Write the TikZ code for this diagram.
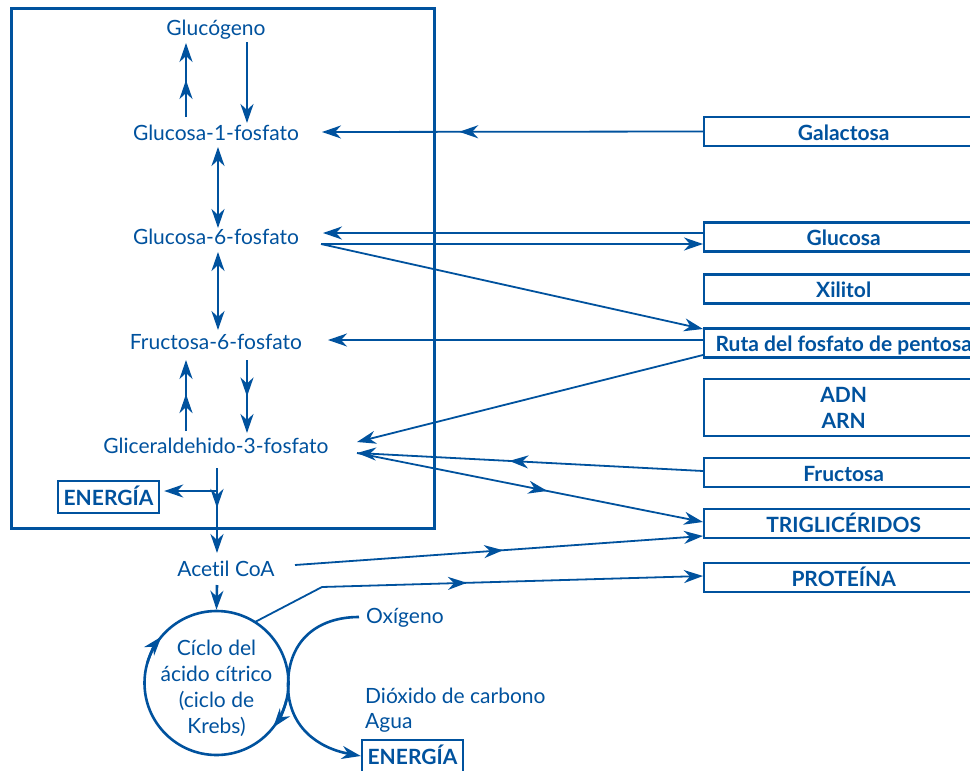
\documentclass[tikz,border=0pt]{standalone}
\usepackage{fontspec}
\setmainfont{Lato}[Ligatures=NoCommon]
\usetikzlibrary{arrows.meta,decorations.markings,calc}
\definecolor{dblue}{RGB}{0,82,158}
\tikzset{
  myhead/.tip={Stealth[length=19pt,width=13pt,inset=6pt]},
  lbl/.style={text=dblue, font=\fontsize{21}{26}\selectfont, inner sep=0pt},
  rbox/.style={draw=dblue, line width=2.4pt, text=dblue, font=\bfseries\fontsize{21}{26}\selectfont,
     minimum width=279pt, minimum height=29pt, text height=17.5pt, text depth=0pt, inner sep=0pt, anchor=west},
  ebox/.style={draw=dblue, line width=2.4pt, text=dblue, font=\bfseries\fontsize{21}{26}\selectfont,
     minimum width=101pt, minimum height=32pt, text height=17.5pt, text depth=0pt, inner sep=0pt},
  thickarr/.style={draw=dblue, line width=2.6pt},
  thinarr/.style={draw=dblue, line width=1.8pt},
  midhead/.style={postaction={decorate},
     decoration={markings, mark=at position #1 with {\arrow{Stealth[length=19pt,width=13pt,inset=6pt]}}}},
}
\begin{document}
\begin{tikzpicture}[x=1pt,y=-1pt]
\useasboundingbox (0,0) rectangle (970,771);
\clip (0,0) rectangle (970,771);
\fill[white] (0,0) rectangle (970,771);

% main frame
\node[draw=dblue, line width=2.7pt, minimum width=423pt, minimum height=520pt, inner sep=0pt, anchor=north west] (frame) at (10,7) {};

% left column labels
\node[lbl, anchor=base] (glg) at (216,35) {Glucógeno};
\node[lbl, anchor=base] (g1p) at (216,140) {Glucosa-1-fosfato};
\node[lbl, anchor=base] (g6p) at (216,244) {Glucosa-6-fosfato};
\node[lbl, anchor=base] (f6p) at (216,349) {Fructosa-6-fosfato};
\node[lbl, anchor=base] (g3p) at (216,453) {Gliceraldehido-3-fosfato};
\node[lbl, anchor=base] (acoa) at (226,576) {Acetil CoA};
\node[lbl, anchor=base west] (oxi) at (366,623) {Oxígeno};
\node[lbl, anchor=base west] (dco) at (365,703) {Dióxido de carbono};
\node[lbl, anchor=base west] (agua) at (365,728) {Agua};

\node[ebox] (en1) at (108.5,497) {ENERGÍA};
\node[ebox] (en2) at (412.5,756) {ENERGÍA};

% Krebs cycle
\node[draw=dblue, circle, line width=2.6pt, minimum size=144pt, inner sep=0pt] (krebs) at (216.5,683) {};
\node[lbl, align=center] (krebstxt) at (216.5,688) {Cíclo del\\ácido cítrico\\(ciclo de\\Krebs)};

% right boxes
\node[rbox] (gal) at (703,131.5) {Galactosa};
\node[rbox] (glc) at (703,237) {Glucosa};
\node[rbox] (xil) at (703,289) {Xilitol};
\node[rbox] (ruta) at (703,343) {Ruta del fosfato de pentosa};
\node[rbox, minimum height=57pt, align=center, text height=, text depth=] (adn) at (703,407.5) {ADN\\ARN};
\node[rbox] (fru) at (703,472.5) {Fructosa};
\node[rbox] (tri) at (703,523.5) {TRIGLICÉRIDOS};
\node[rbox] (prot) at (703,577.5) {PROTEÍNA};

% connector end points
\coordinate (glgL) at (186,43);
\coordinate (g1pUL) at (186,117);
\coordinate (glgR) at (247,42);
\coordinate (g1pUR) at (247,123);
\coordinate (g1pB) at (218,147);
\coordinate (g6pT) at (218,228);
\coordinate (g6pB) at (218,252);
\coordinate (f6pT) at (218,330);
\coordinate (f6pBL) at (186,360);
\coordinate (g3pTL) at (186,431);
\coordinate (f6pBR) at (247,360);
\coordinate (g3pTR) at (247,433);
\coordinate (g3pB) at (217,468);
\coordinate (acoaT) at (217,553);
\coordinate (branch) at (217,491);
\coordinate (acoaB) at (217,585);
\coordinate (g1pR) at (322,132);
\coordinate (g6pRin) at (323,233);
\coordinate (g6pRout) at (321,244);
\coordinate (f6pR) at (328,340);
\coordinate (g3pR1) at (357,442);
\coordinate (g3pR2) at (357,453);
\coordinate (acoaR) at (295,565);
\coordinate (krebsR) at (255,622);
\coordinate (bend) at (322,587);
\coordinate (oxs) at (359,617);

% vertical pathway
\draw[thickarr, -{myhead}, midhead=0.5] (g1pUL) -- (glgL);
\draw[thickarr, -{myhead}] (glgR) -- (g1pUR);
\draw[thickarr, {myhead}-{myhead}] (g1pB) -- (g6pT);
\draw[thickarr, {myhead}-{myhead}] (g6pB) -- (f6pT);
\draw[thickarr, -{myhead}, midhead=0.52] (g3pTL) -- (f6pBL);
\draw[thickarr, -{myhead}, midhead=0.5] (f6pBR) -- (g3pTR);
\draw[thickarr, -{myhead}, midhead=0.47] (g3pB) -- (acoaT);
\draw[thickarr, -{myhead}] (branch) -- ([xshift=4pt]en1.east |- branch);
\draw[thickarr, -{myhead}] (acoaB) -- (krebs.north);

% right side connectors (yshift is in page units: positive = up)
\draw[thinarr, -{myhead}, midhead=0.64] (gal.west) -- (g1pR);
\draw[thinarr, -{myhead}] (glc.west |- g6pRin) -- (g6pRin);
\draw[thinarr, -{myhead}] (g6pRout) -- (glc.west |- g6pRout);
\draw[thinarr, -{myhead}] (g6pRout) -- ([yshift=14pt]ruta.west);
\draw[thinarr, -{myhead}] (ruta.west |- f6pR) -- (f6pR);
\draw[thinarr, -{myhead}] ([yshift=-12pt]ruta.west) -- (g3pR1);
\draw[thinarr, -{myhead}, midhead=0.56] ([yshift=1.5pt]fru.west) -- (g3pR2);
\draw[thinarr, -{myhead}, midhead=0.55] (g3pR2) -- ([yshift=1.5pt]tri.west);
\draw[thinarr, -{myhead}, midhead=0.51] (acoaR) -- ([yshift=-12.5pt]tri.west);
\draw[thinarr, -{myhead}, midhead=0.483] (krebsR) -- (bend) -- ([yshift=1.5pt]prot.west);

% oxygen arc
\draw[thickarr, -{myhead}] (oxs) .. controls (318,617) and (288,640) .. (288,685)
   .. controls (288,727) and (318,748) .. (en2.west);

% cycle arrowheads (angles in page orientation, clockwise on the page)
\draw[thickarr, -{myhead}] ($(krebs.center)+(164:72pt)$) arc[start angle=164, end angle=140, radius=72pt];
\draw[thickarr, -{myhead}] ($(krebs.center)+(-14:72pt)$) arc[start angle=-14, end angle=-38, radius=72pt];
\end{tikzpicture}
\end{document}
